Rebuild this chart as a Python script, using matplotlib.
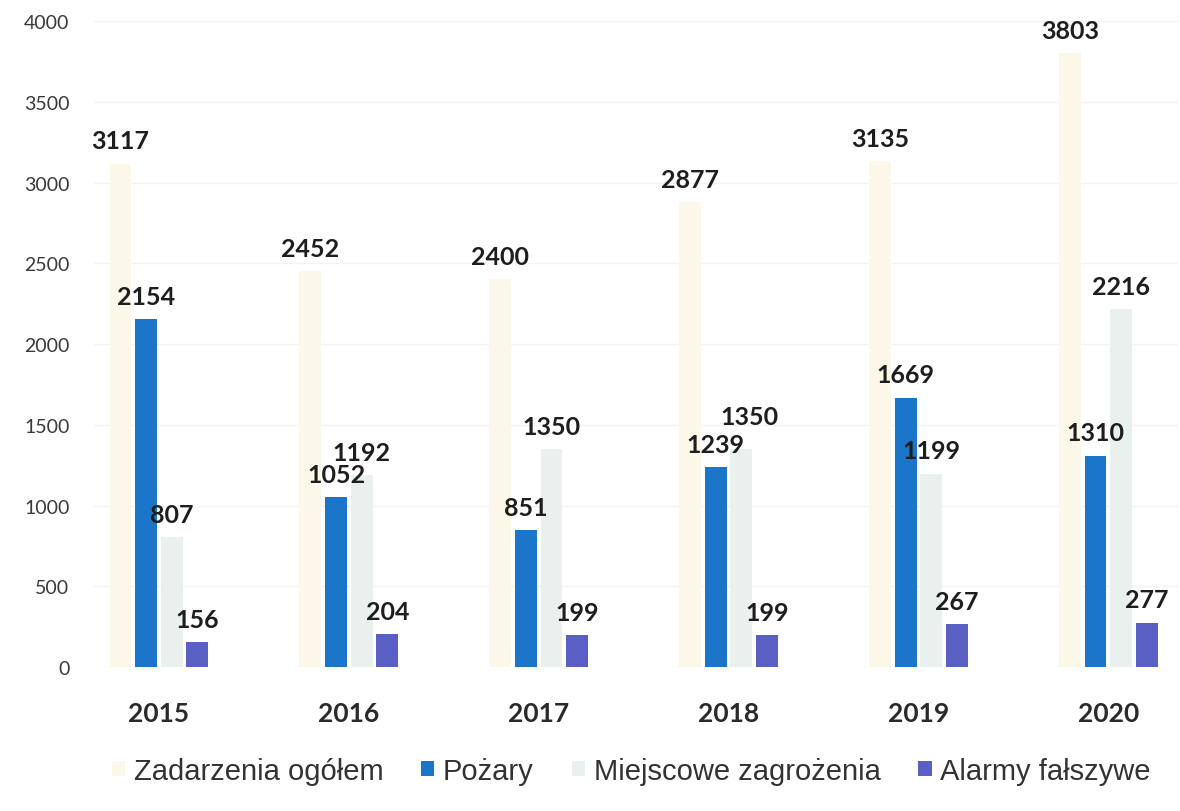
import matplotlib
matplotlib.use("Agg")
import matplotlib.pyplot as plt
import numpy as np

# data
years = ['2015', '2016', '2017', '2018', '2019', '2020']
zdarzenia_ogolem = [3117, 2452, 2400, 2877, 3135, 3803]
pozary = [2154, 1052, 851, 1239, 1669, 1310]
miejscowe_zagrozenia = [807, 1192, 1350, 1350, 1199, 2216]
alarmy_falszywe = [156, 204, 199, 199, 267, 277]

series_names = ['Zadarzenia ogółem', 'Pożary', 'Miejscowe zagrożenia', 'Alarmy fałszywe']
y_ticks = [0, 500, 1000, 1500, 2000, 2500, 3000, 3500, 4000]


def draw_chart():
    """Grouped bar chart of fire brigade events per year."""
    plt.rcParams['font.family'] = ['Lato', 'DejaVu Sans']
    fig = plt.figure(figsize=(11.8, 8.12), dpi=100)
    ax = fig.add_axes([0.08, 0.177, 0.918, 0.796])

    x = np.arange(len(years))
    step = 0.135
    width = 0.115
    all_series = [zdarzenia_ogolem, pozary, miejscowe_zagrozenia, alarmy_falszywe]
    colors = ['#fbf8ea', '#1b76c9', '#e9f0ee', '#5a5fc4']
    offsets = [-1.5 * step, -0.5 * step, 0.5 * step, 1.5 * step]

    handles = []
    for i, (values, color, off, name) in enumerate(zip(all_series, colors, offsets, series_names)):
        bars = ax.bar(x + off, values, width=width, color=color, label=name, zorder=2)
        handles.append(bars)
        # bold value labels over each bar
        for j, (rect, v) in enumerate(zip(bars, values)):
            dx, dy = 0, 8
            # 2018: keep 1350 from sitting on 1239
            if i == 2 and j == 3:
                dx, dy = 6, 15
            ax.annotate(str(v), (rect.get_x() + rect.get_width() / 2, v),
                        xytext=(dx, dy), textcoords='offset points',
                        ha='center', va='bottom', fontsize=18,
                        fontweight='bold', color='#1e1e1e', zorder=3)

    # axes look
    ax.set_ylim(0, 4000)
    ax.set_xlim(-0.34, 5.365)
    ax.set_yticks(y_ticks)
    ax.set_yticklabels([str(t) for t in y_ticks], fontsize=14, color='#3a3a3a')
    ax.set_xticks(x)
    ax.set_xticklabels(years, fontsize=19, fontweight='bold', color='#2a2a2a')
    ax.tick_params(axis='y', length=0, pad=18)
    ax.tick_params(axis='x', length=0, pad=24)
    ax.grid(axis='y', color='#f3f3f3', linewidth=1, zorder=0)
    for spine in ax.spines.values():
        spine.set_visible(False)

    # legend at the bottom
    leg = fig.legend(handles=handles, labels=series_names, loc='lower center',
                     bbox_to_anchor=(0.535, 0.0), ncol=4, frameon=False,
                     handlelength=0.45, handleheight=0.45, handletextpad=0.3,
                     columnspacing=1.3,
                     prop={'family': 'Liberation Sans', 'size': 21})
    for text in leg.get_texts():
        text.set_color('#333333')

    fig.savefig('out.png', dpi=100)


if __name__ == "__main__":
    draw_chart()
